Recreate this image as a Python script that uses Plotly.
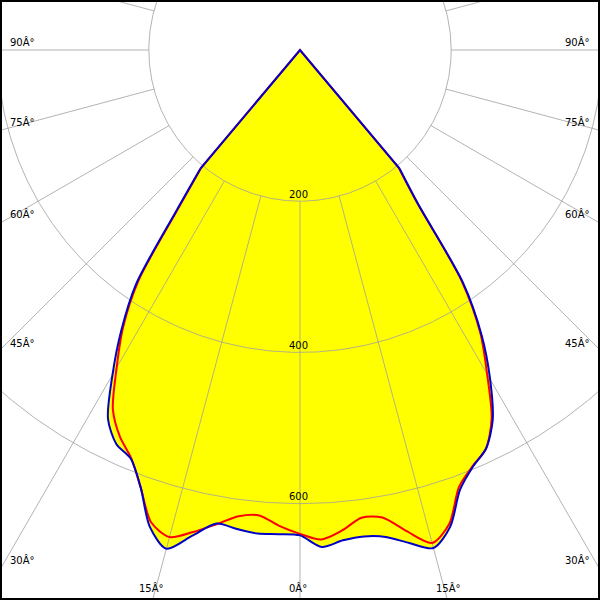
import numpy as np
import plotly.graph_objects as go

# Vertical angles (degrees from nadir; negative = left half-plane)
angles = [-42.5, -40, -37.5, -35, -32.5, -30, -27.5, -25, -22.5, -20, -17.5, -15,
          -12.5, -10, -7.5, -5, -2.5, 0, 2.5, 5, 7.5, 10, 12.5, 15, 17.5, 20,
          22.5, 25, 27.5, 30, 32.5, 35, 37.5, 40, 42.5]

# Luminous intensity (cd/klm) - blue curve (C0-C180)
blue_cd = [0, 205, 270, 378, 440, 496, 550, 575, 585, 616, 661, 683,
           658, 636, 639, 642, 641, 642, 658, 651, 649, 654, 668, 682, 661, 619,
           597, 582, 552, 503, 447, 376, 256, 205, 0]

# Luminous intensity - red curve (C90-C270)
red_cd = [0, 203, 266, 373, 436, 485, 536, 564, 584, 616, 655, 667,
          653, 637, 622, 618, 630, 640, 648, 638, 624, 628, 652, 675, 657, 615,
          596, 582, 549, 495, 444, 373, 254, 203, 0]

ring_values = [200, 400, 600]
ring_labels = ["200", "400", "600"]
spoke_step = 15
side_labels = ["90Â°", "75Â°", "60Â°", "45Â°", "30Â°"]
side_label_y = [42, 122, 214, 343, 560]
bottom_labels = ["15Â°", "0Â°", "15Â°"]
bottom_label_x = [151, 298, 448]

# scale: pixels per cd ; pole sits at (300, 50) px
S = 0.756
W = 600

BLUE = "rgb(0,0,200)"
RED = "rgb(255,0,0)"
YELLOW = "rgb(255,255,0)"
GRID = "rgba(160,160,160,0.8)"


def to_xy(ang, val):
    a = np.radians(np.asarray(ang, dtype=float))
    v = np.asarray(val, dtype=float)
    return v * np.sin(a), -v * np.cos(a)


fig = go.Figure()

bx, by = to_xy(angles, blue_cd)
rx, ry = to_xy(angles, red_cd)


def core(a):
    return list(a[1:-1])


def ends(a):
    # straight parts that run into the pole
    return [a[1], a[0], a[-1], a[-2]]


def cap(a):
    return [a[0], a[1], a[2], a[-3], a[-2], a[-1]]


# yellow fill: smooth body + straight-sided cap at the pole
fig.add_trace(go.Scatter(x=core(bx), y=core(by), mode="lines", fill="toself",
                         fillcolor=YELLOW,
                         line=dict(width=0, shape="spline", smoothing=0.8),
                         hoverinfo="skip", showlegend=False))
fig.add_trace(go.Scatter(x=cap(bx), y=cap(by), mode="lines", fill="toself",
                         fillcolor=YELLOW, line=dict(width=0),
                         hoverinfo="skip", showlegend=False))

# rings
t = np.linspace(0, 2 * np.pi, 721)
for rv in ring_values:
    fig.add_trace(go.Scatter(x=rv * np.cos(t), y=rv * np.sin(t), mode="lines",
                             line=dict(color=GRID, width=1),
                             hoverinfo="skip", showlegend=False))
# spokes from the first ring outward
sx, sy = [], []
for a in range(0, 360, spoke_step):
    x0, y0 = to_xy([a], [ring_values[0]])
    x1, y1 = to_xy([a], [2000])
    sx += [x0[0], x1[0], None]
    sy += [y0[0], y1[0], None]
fig.add_trace(go.Scatter(x=sx, y=sy, mode="lines",
                         line=dict(color=GRID, width=1),
                         hoverinfo="skip", showlegend=False))

# curves
for xs, ys, col in [(rx, ry, RED), (bx, by, BLUE)]:
    fig.add_trace(go.Scatter(x=core(xs), y=core(ys), mode="lines",
                             line=dict(color=col, width=2,
                                       shape="spline", smoothing=0.8),
                             hoverinfo="skip", showlegend=False))
    fig.add_trace(go.Scatter(x=ends(xs), y=ends(ys), mode="lines",
                             line=dict(color=col, width=2),
                             hoverinfo="skip", showlegend=False))

annotations = []
font = dict(family="DejaVu Sans", size=10, color="black")
for rv, lab in zip(ring_values, ring_labels):
    annotations.append(dict(x=0, y=-rv, xref="x", yref="y", text=lab,
                            showarrow=False, font=font, yanchor="middle",
                            xanchor="center", yshift=7, xshift=-2))
for lab, py in zip(side_labels, side_label_y):
    annotations.append(dict(x=8 / W, y=1 - py / W, xref="paper", yref="paper",
                            text=lab, showarrow=False, font=font,
                            xanchor="left", yanchor="middle"))
    annotations.append(dict(x=592 / W, y=1 - py / W, xref="paper", yref="paper",
                            text=lab, showarrow=False, font=font,
                            xanchor="right", yanchor="middle"))
for lab, px in zip(bottom_labels, bottom_label_x):
    annotations.append(dict(x=px / W, y=1 - 588 / W, xref="paper", yref="paper",
                            text=lab, showarrow=False, font=font,
                            xanchor="center", yanchor="middle"))

fig.update_layout(
    width=600, height=600,
    margin=dict(l=0, r=0, t=0, b=0),
    paper_bgcolor="white", plot_bgcolor="white",
    xaxis=dict(range=[-300 / S, 300 / S], visible=False, fixedrange=True),
    yaxis=dict(range=[-550 / S, 50 / S], visible=False, fixedrange=True),
    annotations=annotations,
    shapes=[dict(type="rect", xref="paper", yref="paper", x0=0, y0=0, x1=1, y1=1,
                 line=dict(color="black", width=4), layer="above")],
    showlegend=False,
)

fig.write_html("out.html",
               config={"displayModeBar": False},
               post_script="document.body.style.margin='0px';"
                           "document.body.style.overflow='hidden';")
